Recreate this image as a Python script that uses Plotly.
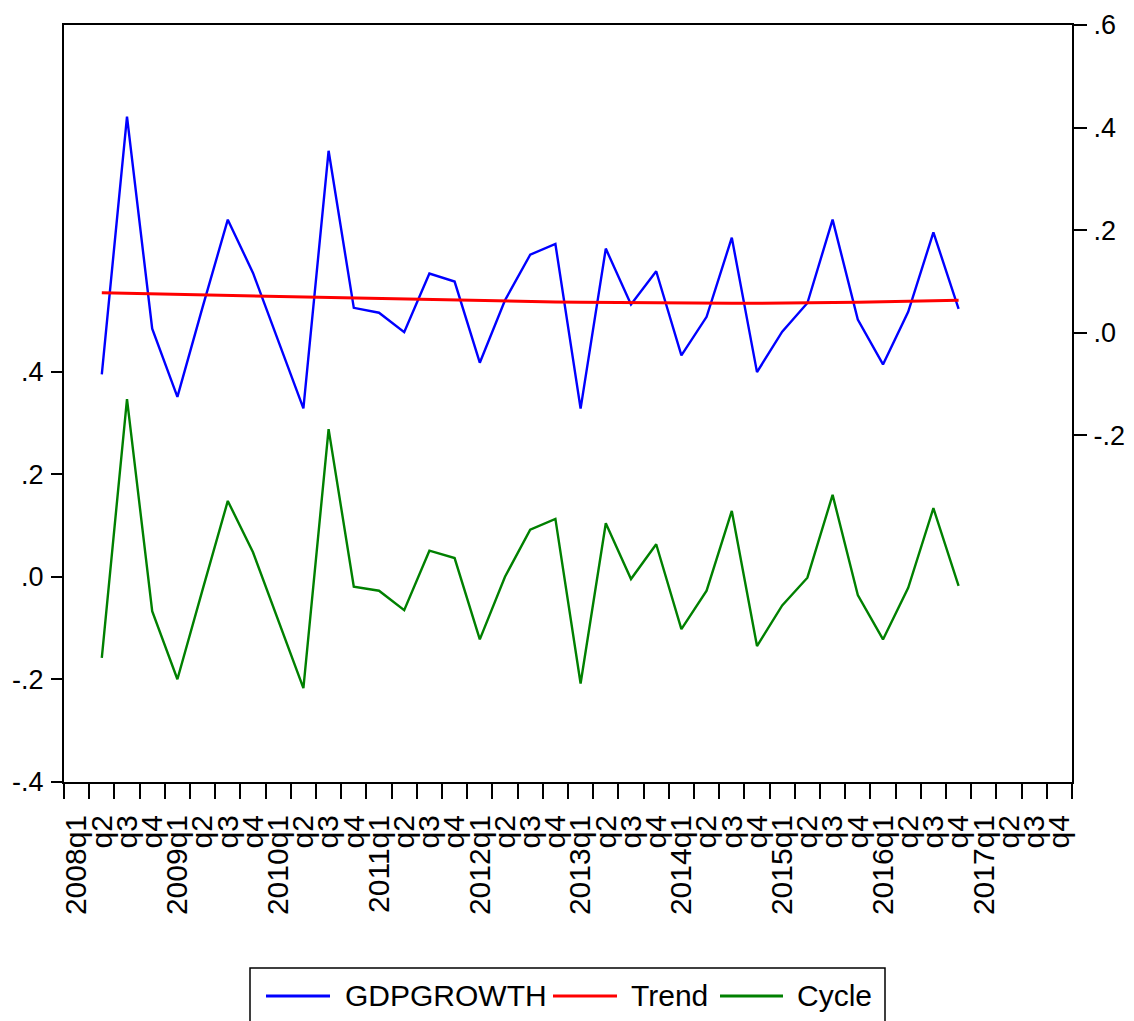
import plotly.graph_objects as go

# ---------------- data ----------------
quarters = [
    "2008q1", "2008q2", "2008q3", "2008q4", "2009q1", "2009q2", "2009q3", "2009q4",
    "2010q1", "2010q2", "2010q3", "2010q4", "2011q1", "2011q2", "2011q3", "2011q4",
    "2012q1", "2012q2", "2012q3", "2012q4", "2013q1", "2013q2", "2013q3", "2013q4",
    "2014q1", "2014q2", "2014q3", "2014q4", "2015q1", "2015q2", "2015q3", "2015q4",
    "2016q1", "2016q2", "2016q3", "2016q4", "2017q1", "2017q2", "2017q3", "2017q4",
]
tick_labels = [
    "2008q1", "q2", "q3", "q4", "2009q1", "q2", "q3", "q4",
    "2010q1", "q2", "q3", "q4", "2011q1", "q2", "q3", "q4",
    "2012q1", "q2", "q3", "q4", "2013q1", "q2", "q3", "q4",
    "2014q1", "q2", "q3", "q4", "2015q1", "q2", "q3", "q4",
    "2016q1", "q2", "q3", "q4", "2017q1", "q2", "q3", "q4",
]
periods = quarters[1:36]  # 2008q2 .. 2016q4

gdpgrowth = [
    -0.081, 0.4215, 0.008, -0.125, 0.050, 0.2205, 0.1166, -0.015, -0.1474, 0.3547,
    0.0485, 0.039, 0.001, 0.1153, 0.0998, -0.0585, 0.0634, 0.152, 0.173, -0.148,
    0.164, 0.055, 0.1198, -0.0443, 0.031, 0.1854, -0.0768, 0.002, 0.058, 0.2205,
    0.0258, -0.0618, 0.0407, 0.1957, 0.0466,
]
trend = [
    0.0777, 0.0767, 0.0757, 0.0746, 0.0736, 0.0725, 0.0713, 0.0701, 0.0690, 0.0678,
    0.0667, 0.0657, 0.0647, 0.0638, 0.0629, 0.0621, 0.0614, 0.0607, 0.0600, 0.0594,
    0.0589, 0.0585, 0.0581, 0.0578, 0.0576, 0.0575, 0.0575, 0.0576, 0.0579, 0.0584,
    0.0593, 0.0602, 0.0613, 0.0624, 0.0634,
]
cycle = [
    -0.158, 0.3467, -0.0668, -0.1996, -0.025, 0.148, 0.048, -0.085, -0.217, 0.288,
    -0.019, -0.027, -0.065, 0.051, 0.0367, -0.122, 0.0002, 0.092, 0.113, -0.208,
    0.1045, -0.0043, 0.0635, -0.102, -0.027, 0.1285, -0.135, -0.0557, -0.0017, 0.1598,
    -0.0355, -0.122, -0.0213, 0.1338, -0.0174,
]

left_ticks = [-0.4, -0.2, 0.0, 0.2, 0.4]
left_ticktext = ["-.4", "-.2", ".0", ".2", ".4"]
right_ticks = [-0.2, 0.0, 0.2, 0.4, 0.6]
right_ticktext = ["-.2", ".0", ".2", ".4", ".6"]

series_names = ["GDPGROWTH", "Trend", "Cycle"]
series_colors = ["#0000FF", "#FF0000", "#008000"]

# ---------------- figure ----------------
x_idx = [quarters.index(p) for p in periods]
FONT = "Liberation Sans, Arial, Helvetica, sans-serif"

fig = go.Figure()
fig.add_trace(go.Scatter(x=x_idx, y=cycle, name=series_names[2], mode="lines",
                         yaxis="y", line=dict(color=series_colors[2], width=2.4)))
fig.add_trace(go.Scatter(x=x_idx, y=gdpgrowth, name=series_names[0], mode="lines",
                         yaxis="y2", line=dict(color=series_colors[0], width=2.4)))
fig.add_trace(go.Scatter(x=x_idx, y=trend, name=series_names[1], mode="lines",
                         yaxis="y2", line=dict(color=series_colors[1], width=3)))

# the page body has an 8px default margin; size the figure to fill the window
OFF = 8
W, H = 1134 - OFF, 1021 - OFF
L, R, T, B = 64 - OFF, 62, 25 - OFF, 239
pw, ph = W - L - R, H - T - B


def px(xs):  # screen x -> paper
    return (xs - OFF - L) / pw


def py(ys):  # screen y -> paper
    return (H - B - (ys - OFF)) / ph


fig.update_layout(
    width=W, height=H,
    margin=dict(l=L, r=R, t=T, b=B, pad=0, autoexpand=False),
    paper_bgcolor="white", plot_bgcolor="white",
    showlegend=False,
    font=dict(family=FONT, color="black"),
    xaxis=dict(
        range=[-0.5, len(quarters) - 0.5], automargin=False,
        tickmode="array", tickvals=list(range(len(quarters))), ticktext=tick_labels,
        tickangle=-90, ticks="", showgrid=False, zeroline=False,
        showline=True, linecolor="black", linewidth=2, mirror=True,
        tickfont=dict(family=FONT, size=30, color="black"),
        ticklabelstandoff=19,
        minor=dict(tickmode="array", tickvals=[i - 0.5 for i in range(len(quarters) + 1)],
                   ticks="outside", ticklen=15, tickwidth=1.5, tickcolor="black",
                   showgrid=False),
    ),
    yaxis=dict(
        range=[-0.4, 1.076], automargin=False,
        tickmode="array", tickvals=left_ticks, ticktext=left_ticktext,
        ticks="outside", ticklen=11, tickwidth=1.5, tickcolor="black",
        showline=True, linecolor="black", linewidth=2,
        showgrid=False, zeroline=False,
        tickfont=dict(family=FONT, size=27, color="black"),
        ticklabelstandoff=2,
    ),
    yaxis2=dict(
        overlaying="y", side="right", automargin=False,
        range=[-0.876, 0.6], tickmode="array", tickvals=right_ticks, ticktext=right_ticktext,
        ticks="outside", ticklen=13, tickwidth=1.5, tickcolor="black",
        showline=True, linecolor="black", linewidth=2,
        showgrid=False, zeroline=False,
        tickfont=dict(family=FONT, size=27, color="black"),
        ticklabelstandoff=1,
    ),
)

# ---------------- legend (drawn manually, EViews style) ----------------
shapes = [dict(type="rect", xref="paper", yref="paper",
               x0=px(250), x1=px(885), y0=py(968), y1=py(1030),
               line=dict(color="black", width=1.5), fillcolor="rgba(0,0,0,0)")]
legend_line_x = [(266, 330), (553, 617), (720, 783)]
legend_text_x = [343, 629, 795]
annotations = []
ly = py(996)
for (x0, x1), tx, name, col in zip(legend_line_x, legend_text_x, series_names, series_colors):
    shapes.append(dict(type="line", xref="paper", yref="paper",
                       x0=px(x0), x1=px(x1), y0=ly, y1=ly,
                       line=dict(color=col, width=3)))
    annotations.append(dict(xref="paper", yref="paper", x=px(tx), y=ly,
                            xanchor="left", yanchor="middle", text=name, showarrow=False,
                            font=dict(family=FONT, size=30, color="black")))
fig.update_layout(shapes=shapes, annotations=annotations)

fig.write_html("out.html")
